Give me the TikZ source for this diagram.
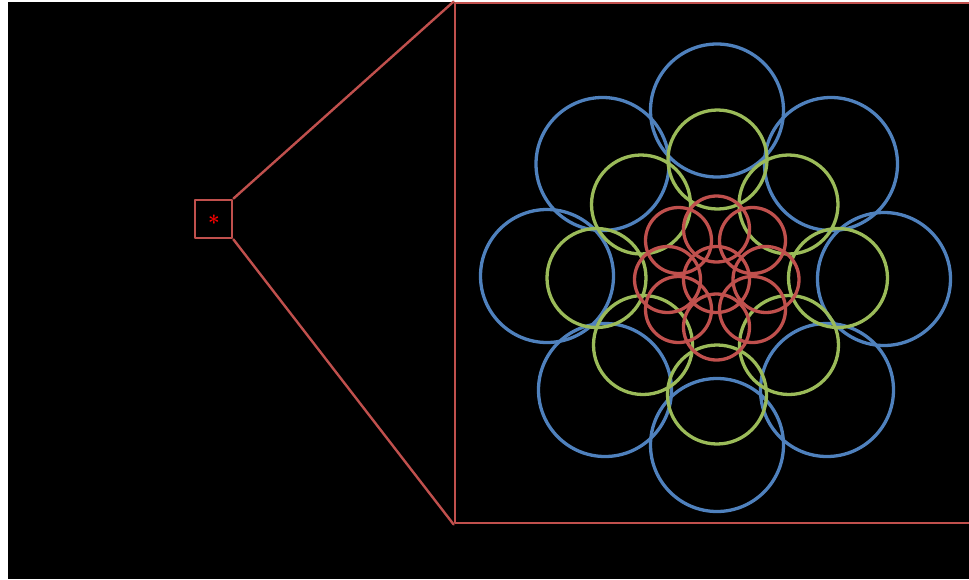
\documentclass[tikz,border=0pt]{standalone}
\usepackage{xcolor}
\usepackage{tikz}
\usetikzlibrary{calc}
\definecolor{ColRim}{RGB}{192,80,77}
\definecolor{ColBlue}{RGB}{79,129,189}
\definecolor{ColGreen}{RGB}{155,187,89}
\definecolor{ColStar}{RGB}{255,0,0}

\begin{document}
\begin{tikzpicture}[
  x=1pt, y=-1pt,
  line cap=round,
  line join=round,
  rim/.style={draw=ColRim, line width=2.8pt, inner sep=0pt},
  ring/.style={line width=3.3pt}
]
  \useasboundingbox (0,0) rectangle (969,579);
  \clip (0,0) rectangle (969,579);
  \fill[black] (8,2) rectangle (969,579);

  % small marker box and the enlarged frame
  \node[rim, minimum width=37pt, minimum height=38pt] (zoombox) at (213.5,219) {};
  \node[text=ColStar, font=\huge\bfseries, inner sep=0pt] (star) at (214,223) {*};
  \node[rim, minimum width=520pt, minimum height=520pt] (bigbox) at (715,263) {};
  \draw[ColRim, line width=2.4pt] (zoombox.north east) -- (bigbox.north west);
  \draw[ColRim, line width=2.4pt] (zoombox.south east) -- (bigbox.south west);

  % outer ring: blue circles
  \foreach \cx/\cy in {717/110.5, 602.5/164, 831/164, 547/276, 884/279,
                       605/390, 827/390, 717/445}{
    \draw[ring, ColBlue] (\cx,\cy) circle[radius=66.5pt];
  }
  % middle ring: green circles
  \foreach \cx/\cy in {717.5/159.5, 641/204.5, 788.5/204.5, 596.5/278, 838/278,
                       643/345, 789/345, 717/394.5}{
    \draw[ring, ColGreen] (\cx,\cy) circle[radius=49.5pt];
  }
  % inner rosette: red circles
  \foreach \cx/\cy in {716.5/229, 678.5/240.5, 752.5/240.5, 667.5/279.5, 716.5/279.5,
                       766/279.5, 678.5/309.5, 752.5/309.5, 716.5/327}{
    \draw[ring, ColRim] (\cx,\cy) circle[radius=33pt];
  }
\end{tikzpicture}
\end{document}
